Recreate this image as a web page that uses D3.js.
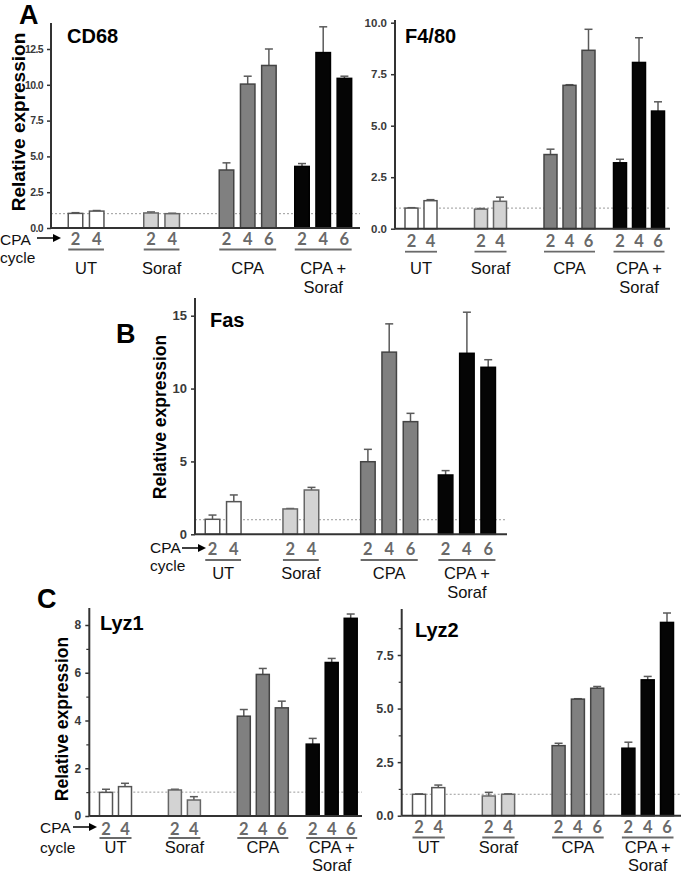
<!DOCTYPE html>
<html><head><meta charset="utf-8">
<script src="https://cdn.jsdelivr.net/npm/d3@7"></script>
<style>body{margin:0;background:#fff} svg{display:block}</style>
</head><body>
<svg id="chart" width="685" height="875"></svg>
<script>
// ---------- data ----------
const groupLabels = [["UT"], ["Soraf"], ["CPA"], ["CPA +", "Soraf"]];
const cycleLabels = [["2", "4"], ["2", "4"], ["2", "4", "6"], ["2", "4", "6"]];

const cd68Mean = [1.02, 1.18, 1.05, 1.0, 4.05, 10.05, 11.35, 4.3, 12.25, 10.45];
const cd68Err  = [0.05, 0.04, 0.07, 0.03, 0.5, 0.55, 1.15, 0.2, 1.8, 0.15];
const cd68Ticks = [0, 2.5, 5, 7.5, 10, 12.5];

const f480Mean = [1.0, 1.36, 0.95, 1.33, 3.6, 6.96, 8.66, 3.2, 8.07, 5.71];
const f480Err  = [0.02, 0.05, 0.03, 0.2, 0.26, 0.03, 1.02, 0.17, 1.2, 0.45];
const f480Ticks = [0, 2.5, 5, 7.5, 10];

const fasMean = [1.03, 2.24, 1.74, 3.04, 4.98, 12.5, 7.73, 4.07, 12.42, 11.46];
const fasErr  = [0.29, 0.46, 0.03, 0.18, 0.85, 1.94, 0.57, 0.3, 2.82, 0.52];
const fasTicks = [0, 5, 10, 15];

const lyz1Mean = [0.99, 1.23, 1.09, 0.67, 4.18, 5.93, 4.53, 3.01, 6.43, 8.28];
const lyz1Err  = [0.13, 0.14, 0.03, 0.14, 0.28, 0.25, 0.28, 0.24, 0.17, 0.18];
const lyz1Ticks = [0, 2, 4, 6, 8];
const lyz1Minor = [1, 3, 5, 7];

const lyz2Mean = [1.0, 1.31, 0.92, 1.0, 3.27, 5.44, 5.95, 3.15, 6.34, 9.02];
const lyz2Err  = [0.02, 0.12, 0.17, 0.02, 0.11, 0.02, 0.08, 0.28, 0.16, 0.44];
const lyz2Ticks = [0, 2.5, 5, 7.5];
const lyz2Minor = [1.25, 3.75, 6.25, 8.75];

const baseline = 1;

// ---------- style ----------
const fills = ["#ffffff", "#d3d3d3", "#808080", "#050505"];
const strokes = ["#555555", "#666666", "#444444", "#000000"];
const SANS = "'Liberation Sans', Arial, sans-serif";
const HUM = "Lato, 'Open Sans', sans-serif";

const svg = d3.select("#chart");

function panel(cfg) {
  const g = svg.append("g");
  const y = d3.scaleLinear().domain([0, cfg.yMax]).range([cfg.y0, cfg.yTop]);
  const xg = d3.scalePoint().domain(d3.range(groupLabels.length))
    .range([cfg.x0 + cfg.first, cfg.x0 + cfg.first + (groupLabels.length - 1) * cfg.gStep]);
  const xb = d3.scaleLinear().domain([0, 1]).range([0, cfg.bStep]);
  const bars = [];
  let k = 0;
  cycleLabels.forEach((cs, gi) => cs.forEach((c, i) => {
    bars.push({gi, i, c, v: cfg.mean[k], e: cfg.err[k]}); k++;
  }));
  const cx = d => xg(d.gi) + xb(d.i);
  const bw = cfg.bw;

  // dashed reference line
  g.append("line").attr("x1", cfg.x0).attr("x2", cfg.xEnd)
    .attr("y1", y(baseline)).attr("y2", y(baseline))
    .attr("stroke", "#9a9a9a").attr("stroke-width", 1).attr("stroke-dasharray", "2,2");

  // error bars
  const eb = g.selectAll(".eb").data(bars).join("g");
  eb.append("line").attr("x1", cx).attr("x2", cx)
    .attr("y1", d => y(d.v)).attr("y2", d => y(d.v + d.e))
    .attr("stroke", "#5a5a5a").attr("stroke-width", 1.5);
  eb.append("line").attr("x1", d => cx(d) - 4).attr("x2", d => cx(d) + 4)
    .attr("y1", d => y(d.v + d.e)).attr("y2", d => y(d.v + d.e))
    .attr("stroke", "#5a5a5a").attr("stroke-width", 1.5);

  // bars
  g.selectAll(".bar").data(bars).join("rect")
    .attr("x", d => cx(d) - bw / 2).attr("width", bw)
    .attr("y", d => y(d.v)).attr("height", d => y(0) - y(d.v))
    .attr("fill", d => fills[d.gi]).attr("stroke", d => strokes[d.gi]).attr("stroke-width", 1.5);

  // x axis line
  g.append("line").attr("x1", cfg.x0).attr("x2", cfg.xEnd)
    .attr("y1", y(0)).attr("y2", y(0)).attr("stroke", "#333").attr("stroke-width", 2);

  // y axis
  const ax = g.append("g").attr("transform", `translate(${cfg.x0},0)`)
    .call(d3.axisLeft(y).tickValues(cfg.ticks).tickFormat(d3.format(cfg.fmt)).tickSize(4).tickSizeOuter(0));
  ax.select(".domain").attr("stroke", "#333").attr("stroke-width", 2)
    .attr("d", `M0,${y(0)}V${cfg.axTop}`);
  ax.selectAll(".tick line").attr("stroke", "#333").attr("stroke-width", 1.5);
  ax.selectAll(".tick text").attr("font-family", SANS).attr("font-weight", "bold")
    .attr("font-size", cfg.tickFs).attr("fill", "#3a3a3a").attr("dx", "-1")
    .attr("letter-spacing", cfg.tickLs || 0);
  if (cfg.minor) {
    const mx = g.append("g").attr("transform", `translate(${cfg.x0},0)`)
      .call(d3.axisLeft(y).tickValues(cfg.minor).tickFormat("").tickSize(3).tickSizeOuter(0));
    mx.select(".domain").remove();
    mx.selectAll(".tick line").attr("stroke", "#333").attr("stroke-width", 1.2);
  }

  // cycle numbers
  g.selectAll(".num").data(bars).join("text")
    .attr("x", cx).attr("y", cfg.numY).attr("text-anchor", "middle")
    .attr("font-family", HUM).attr("font-size", 16.5).attr("font-weight", "bold").attr("fill", "#6a6a6a")
    .text(d => d.c);

  // group underlines and labels
  groupLabels.forEach((lab, gi) => {
    const gb = bars.filter(d => d.gi === gi);
    const xl = cx(gb[0]) - bw / 2, xr = cx(gb[gb.length - 1]) + bw / 2;
    g.append("line").attr("x1", xl).attr("x2", xr).attr("y1", cfg.lineY).attr("y2", cfg.lineY)
      .attr("stroke", "#6a6a6a").attr("stroke-width", 1.8);
    lab.forEach((s, li) => {
      g.append("text").attr("text-anchor", "middle").attr("x", (xl + xr) / 2)
        .attr("y", cfg.labY + li * cfg.labGap)
        .attr("font-family", SANS).attr("font-size", 16.5).attr("fill", "#111").text(s);
    });
  });

  // title
  g.append("text").attr("x", cfg.titleX).attr("y", cfg.titleY)
    .attr("font-family", SANS).attr("font-weight", "bold").attr("font-size", 20).attr("fill", "#000")
    .text(cfg.title);

  // y label
  if (cfg.ylab) {
    g.append("text").attr("transform", `translate(${cfg.ylab[0]},${cfg.ylab[1]}) rotate(-90)`)
      .attr("text-anchor", "middle").attr("font-family", SANS).attr("font-weight", "bold")
      .attr("font-size", cfg.ylab[2]).attr("fill", "#000").text("Relative expression");
  }
  // side label
  if (cfg.side) {
    const [sx, sy, ax1, ax2, ay, cyY] = cfg.side;
    g.append("text").attr("x", sx).attr("y", sy).attr("font-family", SANS).attr("font-size", 15.5)
      .attr("fill", "#111").text("CPA");
    g.append("text").attr("x", sx).attr("y", cyY).attr("font-family", SANS).attr("font-size", 15.5)
      .attr("fill", "#111").text("cycle");
    g.append("line").attr("x1", ax1).attr("x2", ax2 - 6).attr("y1", ay).attr("y2", ay)
      .attr("stroke", "#000").attr("stroke-width", 1.5);
    g.append("path").attr("d", `M${ax2},${ay}L${ax2 - 8},${ay - 4}L${ax2 - 8},${ay + 4}Z`).attr("fill", "#000");
  }
  // panel letter
  if (cfg.letter) {
    g.append("text").attr("x", cfg.letter[1]).attr("y", cfg.letter[2])
      .attr("font-family", SANS).attr("font-weight", "bold").attr("font-size", 27).attr("fill", "#000")
      .text(cfg.letter[0]);
  }
}

panel({title: "CD68", mean: cd68Mean, err: cd68Err, ticks: cd68Ticks, fmt: ".1f", tickFs: 10.5, tickLs: -0.6,
  x0: 51, xEnd: 360, y0: 228, yTop: 49, yMax: 12.5, axTop: 23,
  first: 24.5, gStep: 75.5, bStep: 21.2, bw: 14.5,
  numY: 245, lineY: 249.5, labY: 274, labGap: 18.5,
  titleX: 67, titleY: 43, ylab: [25, 122, 19],
  side: [0, 245, 37, 61, 238, 263], letter: ["A", 19, 24]});

panel({title: "F4/80", mean: f480Mean, err: f480Err, ticks: f480Ticks, fmt: ".1f", tickFs: 11.5,
  x0: 395, xEnd: 670, y0: 228.7, yTop: 22.7, yMax: 10, axTop: 20,
  first: 16.5, gStep: 69.5, bStep: 19, bw: 13,
  numY: 246.5, lineY: 251.7, labY: 273.5, labGap: 19,
  titleX: 405, titleY: 43});

panel({title: "Fas", mean: fasMean, err: fasErr, ticks: fasTicks, fmt: "d", tickFs: 13,
  x0: 195, xEnd: 507, y0: 534.3, yTop: 315.7, yMax: 15, axTop: 298,
  first: 17.5, gStep: 77.7, bStep: 21.3, bw: 14.5,
  numY: 555, lineY: 560, labY: 579, labGap: 18.5,
  titleX: 210, titleY: 327, ylab: [166, 417, 17.5],
  side: [150, 553, 182, 206, 548, 571], letter: ["B", 116, 343]});

panel({title: "Lyz1", mean: lyz1Mean, err: lyz1Err, ticks: lyz1Ticks, minor: lyz1Minor, fmt: "d", tickFs: 12,
  x0: 89.3, xEnd: 362, y0: 816, yTop: 625, yMax: 8, axTop: 608,
  first: 16.7, gStep: 68.9, bStep: 19, bw: 13,
  numY: 834.5, lineY: 838, labY: 852.5, labGap: 18.5,
  titleX: 100, titleY: 630, ylab: [68, 719, 17.5],
  side: [40, 833, 73, 97, 827, 853], letter: ["C", 37, 608]});

panel({title: "Lyz2", mean: lyz2Mean, err: lyz2Err, ticks: lyz2Ticks, minor: lyz2Minor, fmt: ".1f", tickFs: 12.5,
  x0: 401.7, xEnd: 681, y0: 815.7, yTop: 655, yMax: 7.5, axTop: 609,
  first: 17.3, gStep: 69.8, bStep: 19.3, bw: 13,
  numY: 833, lineY: 837.5, labY: 852.5, labGap: 18.5,
  titleX: 415, titleY: 637});
</script>
</body></html>
